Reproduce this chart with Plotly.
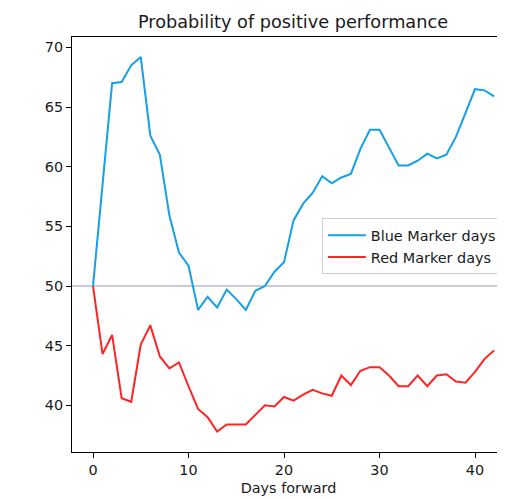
import plotly.graph_objects as go

days = list(range(43))
blue_days = [50.0, 58.5, 67.0, 67.1, 68.5, 69.2, 62.6, 61.0, 55.9, 52.8, 51.7,
             48.0, 49.1, 48.2, 49.7, 48.9, 48.0, 49.6, 50.0, 51.2, 52.0,
             55.5, 56.9, 57.8, 59.2, 58.6, 59.1, 59.4, 61.5, 63.1, 63.1,
             61.6, 60.1, 60.1, 60.5, 61.1, 60.7, 61.0, 62.5, 64.5, 66.5,
             66.4, 65.9]
red_days = [50.0, 44.3, 45.9, 40.6, 40.3, 45.1, 46.7, 44.1, 43.1, 43.6, 41.6,
            39.7, 39.0, 37.8, 38.4, 38.4, 38.4, 39.2, 40.0, 39.9, 40.7,
            40.4, 40.9, 41.3, 41.0, 40.8, 42.5, 41.7, 42.9, 43.2, 43.2,
            42.5, 41.6, 41.6, 42.5, 41.6, 42.5, 42.6, 42.0, 41.9, 42.8,
            43.9, 44.6]
baseline = 50
x_ticks = [0, 10, 20, 30, 40]
y_ticks = [40, 45, 50, 55, 60, 65, 70]

font = "DejaVu Sans"
W, H = 497, 491
fig = go.Figure()
fig.add_hline(y=baseline, line=dict(color="#c9ccd9", width=2), layer="below")
fig.add_trace(go.Scatter(x=days, y=blue_days, mode="lines", name="Blue Marker days",
                         line=dict(color="#149fe6", width=2)))
fig.add_trace(go.Scatter(x=days, y=red_days, mode="lines", name="Red Marker days",
                         line=dict(color="#ff2424", width=2)))

fig.update_layout(
    width=W, height=H,
    margin=dict(l=64, r=0, t=29, b=47),
    plot_bgcolor="white", paper_bgcolor="white",
    font=dict(family=font, size=14.4, color="#1a1a1a"),
    title=dict(text="Probability of positive performance", x=285 / W,
               xanchor="center", y=1 - 14 / H, yanchor="middle",
               font=dict(family=font, size=17.7, color="#1a1a1a")),
    showlegend=True,
    legend=dict(x=0.577, y=0.563, xanchor="left", yanchor="top",
                bgcolor="rgba(255,255,255,0.8)", bordercolor="#d0d0d0", borderwidth=1,
                font=dict(family=font, size=14.4, color="#1a1a1a"),
                itemwidth=38, tracegroupgap=0),
)
fig.update_xaxes(range=[-2.2, 43.14], tickvals=x_ticks, showgrid=False, zeroline=False,
                 showline=True, linecolor="black", linewidth=1, mirror=True,
                 ticks="outside", ticklen=5, tickwidth=1, tickcolor="black",
                 title=dict(text="Days forward", standoff=5,
                            font=dict(family=font, size=14.4, color="#1a1a1a")))
fig.update_yaxes(range=[36.09, 70.87], tickvals=y_ticks, showgrid=False, zeroline=False,
                 showline=True, linecolor="black", linewidth=1, mirror=False,
                 ticks="outside", ticklen=5, tickwidth=1, tickcolor="black")

fig.write_html("out.html")
